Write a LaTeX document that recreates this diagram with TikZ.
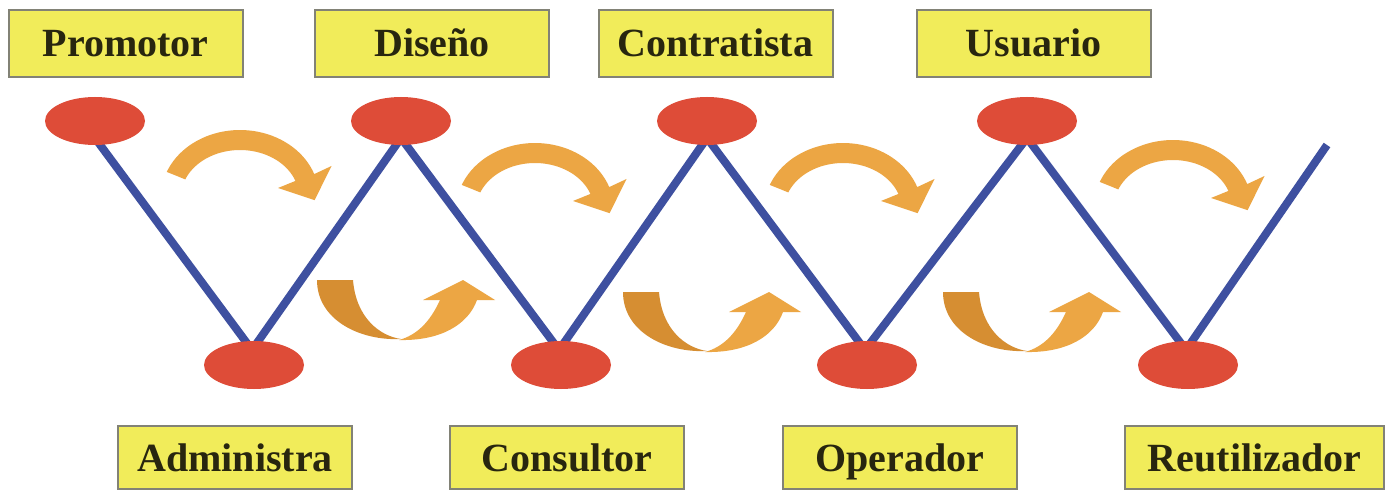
\documentclass[tikz,border=0pt]{standalone}
\usepackage{fontspec}
\setmainfont{Liberation Serif}
\usetikzlibrary{calc,backgrounds,shapes.geometric}
\definecolor{boxfill}{RGB}{241,236,90}
\definecolor{boxline}{RGB}{130,130,118}
\definecolor{txt}{RGB}{40,38,15}
\definecolor{dotred}{RGB}{222,76,56}
\definecolor{zigblue}{RGB}{62,80,160}
\definecolor{arrlight}{RGB}{236,166,68}
\definecolor{arrdark}{RGB}{214,142,50}
\tikzset{
  rolebox/.style={draw=boxline, line width=2pt, fill=boxfill, text=txt,
    font=\fontsize{40}{44}\selectfont\bfseries, inner sep=0pt,
    text height=27pt, text depth=0pt, minimum width=234pt},
  toprole/.style={rolebox, minimum height=67pt},
  botrole/.style={rolebox, minimum height=63pt},
  dot/.style={ellipse, fill=dotred, minimum width=100pt, minimum height=48pt, inner sep=0pt},
  zig/.style={draw=zigblue, line width=8pt},
  toparrow/.pic={
    \fill[arrlight] plot[domain=158:20,samples=40] ({240+79*cos(\x)},{197-67*sin(\x)})
      -- (331.5,166.0) -- (314.6,200.2) -- (278.0,188.0)
      -- plot[domain=20:158,samples=40] ({240+59*cos(\x)},{197-47*sin(\x)}) -- cycle;
  },
  botarrow/.pic={
    \fill[arrdark] (317,280) -- (353,280) .. controls (356,318) and (380,336) .. (401,339)
      .. controls (360,341) and (317,320) .. (317,280) -- cycle;
    \fill[arrlight] (399,340) .. controls (440,341) and (468,325) .. (477,300)
      -- (495,300) -- (463,280) -- (423,300) -- (440,300)
      .. controls (430,322) and (417,335) .. (399,340) -- cycle;
  }
}
\begin{document}
\begin{tikzpicture}[x=1pt,y=-1pt]
\useasboundingbox (0,0) rectangle (1390,492);
% role boxes
\node[toprole] (p1) at (125.5,43.5) {Promotor};
\node[toprole] (p2) at (432,43.5) {Diseño};
\node[toprole] (p3) at (715.5,43.5) {Contratista};
\node[toprole] (p4) at (1033.5,43.5) {Usuario};
\node[botrole] (q1) at (235,457.5) {Administra};
\node[botrole] (q2) at (567,457.5) {Consultor};
\node[botrole] (q3) at (900,457.5) {Operador};
\node[botrole, minimum width=259pt] (q4) at (1254.5,457.5) {Reutilizador};
% dots
\node[dot] (t1) at (95,121) {};
\node[dot] (t2) at (401,121) {};
\node[dot] (t3) at (707,121) {};
\node[dot] (t4) at (1027,121) {};
\node[dot] (b1) at (254,365) {};
\node[dot] (b2) at (561,365) {};
\node[dot] (b3) at (867,365) {};
\node[dot] (b4) at (1188,365) {};
\coordinate (zend) at (1327,145);
% zigzag behind the dots
\begin{scope}[on background layer]
\fill[white] (0,0) rectangle (1390,492);
\draw[zig] ($(t1.center)+(0,17)$) -- ($(b1.center)+(-2,-15)$) -- ($(t2.center)+(0,17)$)
  -- ($(b2.center)+(-2,-15)$) -- ($(t3.center)+(0,17)$)
  -- ($(b3.center)+(-2,-15)$) -- ($(t4.center)+(0,17)$)
  -- ($(b4.center)+(-2,-15)$) -- (zend);
\end{scope}
% arrows
\pic at (0,0) {toparrow};
\pic at (295,13) {toparrow};
\pic at (603,13) {toparrow};
\pic at (933,10) {toparrow};
\pic at (0,0) {botarrow};
\pic at (306,12) {botarrow};
\pic at (626,12) {botarrow};
\end{tikzpicture}
\end{document}
